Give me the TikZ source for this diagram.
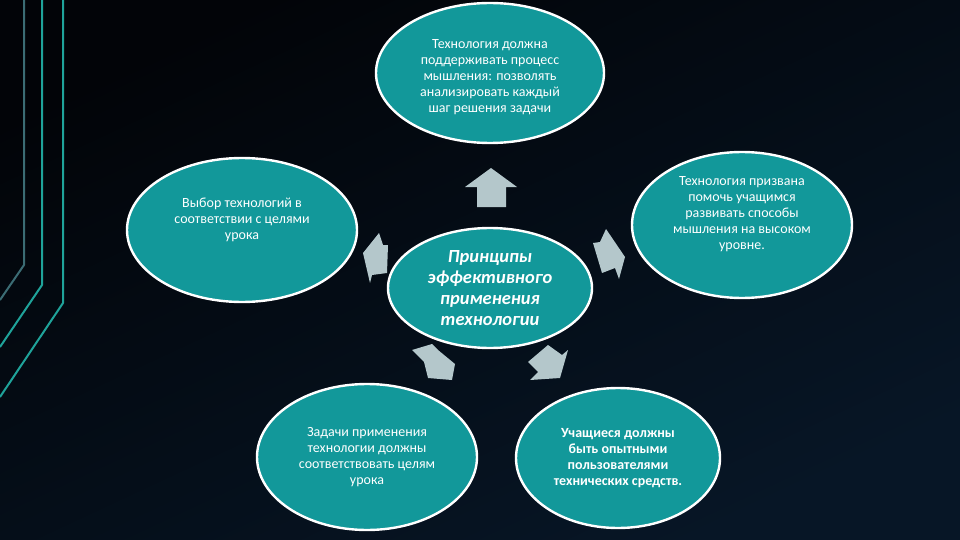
\documentclass[tikz,border=0pt]{standalone}
\usepackage{fontspec}
\setmainfont{Carlito}
\usepackage{tikz}
\usetikzlibrary{shapes.geometric}
\definecolor{bgdark}{HTML}{020408}
\definecolor{bgnavy}{HTML}{071626}
\definecolor{tealfill}{HTML}{12989A}
\definecolor{tealline}{HTML}{1FA39A}
\definecolor{tealdim}{HTML}{3B6C74}
\definecolor{pointer}{HTML}{B4C7CB}
\tikzstyle{bubble} = [draw=white, line width=2.4pt, fill=tealfill, ellipse, inner sep=0pt, text=white, align=center, font=\fontsize{14}{16}\selectfont]
\tikzstyle{core} = [bubble, font=\fontsize{18.5}{21}\selectfont\bfseries\itshape]
\tikzstyle{pointer} = [fill=pointer, draw=none]
\tikzstyle{rail} = [line width=2pt, line join=round]

\begin{document}
\begin{tikzpicture}[x=1pt, y=-1pt]
    % Background and frame lines
    \shade [top color=bgdark, bottom color=bgnavy, shading angle=25] (0,0) rectangle (960,540);
    \useasboundingbox (0,0) rectangle (960,540);
    \draw [rail, tealdim] (24,0) -- (24,265) -- (0,300);
    \draw [rail, tealline] (42,0) -- (42,285) -- (0,347);
    \draw [rail, tealline] (63,0) -- (63,303) -- (0,397);

    % Drawing bubbles
    \node [core, minimum width=204, minimum height=120] (princ) at (490,288)
        {Принципы\\эффективного\\применения\\технологии};
    \node [bubble, minimum width=228, minimum height=140] (think) at (490,73)
        {\\[1pt]Технология должна\\поддерживать процесс\\мышления: позволять\\анализировать каждый\\шаг решения задачи};
    \node [bubble, minimum width=230, minimum height=144] (choice) at (242,230)
        {Выбор технологий в\\соответствии с целями\\урока\\[6pt]};
    \node [bubble, minimum width=220, minimum height=146] (develop) at (742,225)
        {Технология призвана\\помочь учащимся\\развивать способы\\мышления на высоком\\уровне.\\[8pt]};
    \node [bubble, minimum width=220, minimum height=146] (tasks) at (367,457)
        {Задачи применения\\технологии должны\\соответствовать целям\\урока};
    \node [bubble, minimum width=204, minimum height=140, font=\fontsize{14}{16}\selectfont\bfseries] (users) at (618,458)
        {Учащиеся должны\\быть опытными\\пользователями\\технических средств.};

    % Block arrows round the centre
    \fill [pointer] (491,168) -- (517,187) -- (506,187) -- (506,207) -- (477,207) -- (477,187) -- (465,187) -- cycle;
    \fill [pointer] (379,233) -- (383,245) -- (388,245) -- (387,273) -- (372,275) -- (370,283) -- (363,253) -- cycle;
    \fill [pointer] (606,229) -- (625,257) -- (619,279) -- (615,268) -- (602,273) -- (593,243) -- (600,242) -- cycle;
    \fill [pointer] (412,350) -- (432,344) -- (438,350) -- (455,364) -- (452,380) -- (428,378) -- (424,362) -- cycle;
    \fill [pointer] (528,362) -- (548,345) -- (562,355) -- (568,350) -- (560,378) -- (530,380) -- (538,372) -- cycle;
\end{tikzpicture}
\end{document}
